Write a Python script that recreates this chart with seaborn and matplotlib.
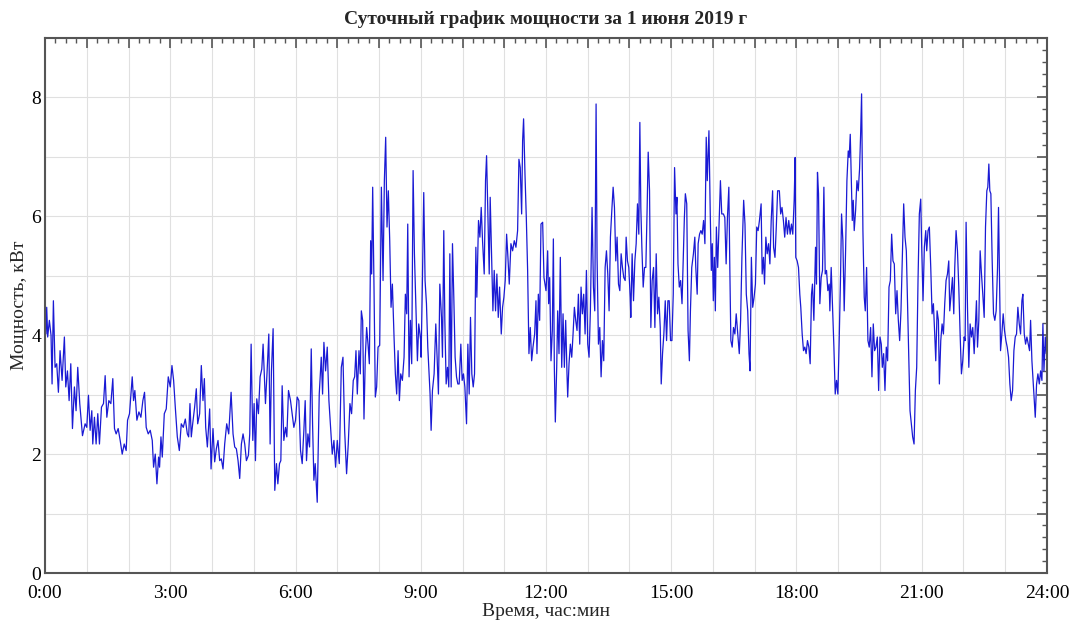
import numpy as np
import pandas as pd
import matplotlib
matplotlib.use("Agg")
import matplotlib.pyplot as plt
import seaborn as sns
from matplotlib.ticker import MultipleLocator, FuncFormatter

# minutes since midnight / power in kW in 3-hour blocks
t_00 = [0, 1.4, 2.4, 3.8, 6.2, 8.6, 10.1, 12, 14.4, 16.8, 19.2, 21.6, 24.5, 27.8, 29.8, 32.2, 34.6, 37, 39.4, 42.2,
        44.6, 47, 49.9, 53.8, 57.6, 60, 62.4, 64.8, 67.2, 68.6, 71, 73.4, 75.8, 78.2, 81.1, 84, 86.4, 88.8, 91.7, 94.6,
        97.4, 99.8, 102.2, 105.1, 108, 110.9, 113.8, 116.6, 118.6, 121.4, 125.3, 127.2, 129.1, 132, 134.9, 137.8, 140.6,
        143, 145.4, 148.3, 151.2, 154.1, 156, 158.4, 160.8, 163.2, 164.6, 166.6, 168.5, 171.4, 174.2, 177.1, 180]
p_00 = [4.47, 4.02, 4.47, 3.97, 4.25, 4.0, 3.18, 4.58, 3.46, 3.52, 3.04, 3.74, 3.24, 3.97, 3.13, 3.4, 2.9, 3.52, 2.43, 3.13,
        2.73, 3.46, 2.85, 2.31, 2.51, 2.45, 2.99, 2.4, 2.73, 2.17, 2.62, 2.17, 2.68, 2.17, 2.79, 2.85, 3.32, 2.62, 2.9, 2.85,
        3.27, 2.43, 2.34, 2.43, 2.23, 2.0, 2.17, 2.06, 2.57, 2.68, 3.3, 2.9, 3.07, 2.57, 2.71, 2.62, 2.9,
        3.04, 2.45, 2.34, 2.4, 2.23, 1.78, 2.0, 1.5, 1.95, 1.78, 2.29, 1.95, 2.68, 2.76, 3.3, 3.13]

t_03 = [182.4, 184.8, 187.2, 190.1, 193, 195.8, 198.7, 201.6, 204.5, 206.4, 208.3, 210.2, 212.2, 215, 217.4, 219.4,
        222.2, 224.6, 227, 229, 230.9, 233.3, 236.6, 238.6, 241.4, 243.8, 246.2, 248.6, 251, 253.4, 255.8, 258.2,
        261.1, 264, 267.4, 270.2, 272.6, 275, 277.4, 279.8, 282.2, 284.6, 287, 289.4, 292.3, 294.2, 296.2, 298.6,
        300.5, 302.4, 304.3, 306.7, 309.1, 311.5, 313.4, 315.4, 316.8, 319.2, 321.6, 323.5, 325.4, 327.8, 330.2,
        332.6, 334.6, 337, 338.9, 340.8, 343.2, 345.6, 347.5, 349.9, 352.8, 355.2, 357.6, 360]
p_03 = [3.49, 3.24, 2.79, 2.29, 2.06, 2.51, 2.45, 2.59, 2.34, 2.29, 2.85, 2.29, 2.51, 2.79, 3.1, 2.51,
        2.68, 3.49, 2.9, 3.27, 2.45, 2.12, 2.76, 1.75, 2.43, 1.87, 2.09, 2.23, 1.89, 1.92, 1.75, 2.17,
        2.51, 2.34, 3.04, 2.34, 2.12, 2.09, 1.89, 1.59, 2.17, 2.34, 2.17, 1.89, 1.98, 2.34, 3.85, 2.23,
        2.85, 1.89, 2.93, 2.68, 3.3, 3.43, 3.85, 3.24, 2.85, 3.4, 4.02, 2.17, 3.4, 4.11, 1.39,
        1.84, 1.5, 1.84, 1.89, 3.15, 2.23, 2.45, 2.29, 3.07, 2.9, 2.68, 2.45, 2.57]

t_06 = [362.4, 364.8, 367.2, 369.6, 372, 373.9, 375.8, 377.8, 380.2, 382.6, 384.5, 386.4, 388.3, 391.2, 394.1, 397,
        398.9, 400.8, 403.2, 405.6, 408, 410.4, 412.8, 415.2, 417.6, 420, 422.9, 425.8, 428.2, 430.6, 433.4, 435.8,
        438.2, 440.6, 443, 445, 446.9, 448.8, 451.2, 453.1, 454.6, 456.5, 458.4, 460.3, 462.2, 464.2, 466.1, 468,
        469.4, 470.9, 472.8, 474.7, 476.6, 478.6, 481, 483.4, 485.8, 487.7, 489.6, 491.5, 493.4, 495.4, 497.3,
        499.2, 501.6, 503.5, 505.4, 507.4, 509.3, 511.2, 513.6, 516, 517.9, 519.8, 521.3, 523.2, 525.1, 527, 529,
        530.9, 533.3, 535.2, 537.1, 540]
p_06 = [2.96, 2.9, 2.06, 1.84, 2.4, 2.9, 1.89, 2.34, 2.12, 3.77, 2.51, 1.56, 1.84, 1.19, 3.01, 3.63,
        3.01, 3.88, 3.4, 3.8, 2.9, 2.45, 2.0, 2.23, 1.78, 2.23, 1.84, 3.46, 3.63, 2.4, 1.67, 2.17,
        2.85, 2.68, 3.24, 3.3, 3.74, 3.01, 3.74, 3.35, 4.41, 4.25, 2.59, 3.63, 4.13, 3.85, 3.52, 5.59,
        5.03, 6.49, 4.81, 2.96, 3.13, 3.8, 3.83, 6.49, 4.92, 6.6, 7.33, 5.82, 6.43, 5.59, 4.47,
        4.86, 3.97, 3.35, 3.01, 3.74, 2.9, 3.35, 3.24, 3.63, 4.69, 4.36, 5.87, 3.3, 4.25, 3.52, 6.77,
        5.37, 4.36, 3.57, 4.19, 3.91]

t_09 = [540.5, 542.4, 544.3, 546.2, 548.2, 550.1, 552, 553.4, 554.9, 556.8, 559.2, 561.6, 563.5, 565.4, 567.4,
        569.8, 571.2, 573.1, 574.6, 576.5, 578.4, 580.3, 581.8, 583.7, 585.6, 587.5, 589.4, 591.4, 593.3, 595.2,
        597.6, 599.5, 601.4, 603.4, 605.8, 607.7, 609.6, 611.5, 613.4, 615.4, 617.3, 619.2, 620.6, 623, 625,
        626.9, 628.8, 631.2, 633.1, 634.6, 636.5, 638.4, 639.8, 641.8, 643.7, 645.6, 647.5, 649.4, 651.4, 653.3,
        655.7, 657.6, 659.5, 661.4, 663.4, 665.3, 667.2, 669.6, 672, 674.4, 676.8, 679.2, 681.1, 683, 685,
        686.4, 687.8, 689.8, 691.7, 693.6, 695.5, 697.4, 699.4, 701.3, 703.7, 705.6, 707, 709, 710.9, 712.8,
        715.2, 717.1, 720]
p_09 = [3.63, 4.92, 6.4, 4.92, 4.53, 3.8, 3.35, 3.01, 2.4, 3.07, 3.35, 4.19, 3.63, 3.01, 4.86,
        4.3, 3.63, 5.76, 4.25, 3.18, 3.46, 3.13, 5.37, 3.13, 5.54, 4.64, 3.63, 3.3, 3.18, 3.18,
        3.85, 3.24, 3.35, 3.13, 2.51, 3.85, 3.01, 4.3, 3.35, 3.13, 3.35, 5.48, 4.64, 5.93, 5.65,
        6.15, 5.59, 5.03, 6.6, 7.02, 6.04, 5.03, 6.32, 5.31, 4.41, 5.09, 4.41, 5.03, 4.3, 4.81,
        4.02, 4.47, 4.64, 4.92, 5.7, 5.31, 4.86, 5.54, 5.42, 5.59, 5.48, 5.76, 6.96, 6.82, 6.04,
        7.27, 7.64, 6.71, 5.98, 5.09, 3.69, 4.13, 3.57, 3.8, 4.02, 4.58, 3.69, 4.69, 4.25, 5.87,
        5.9, 4.97, 4.75]

t_12 = [720.5, 722.4, 723.8, 725.3, 727.2, 729.1, 730.6, 732, 733.4, 735.4, 736.8, 738.7, 740.6, 742.6, 744.5,
        746.4, 748.3, 750.2, 751.2, 753.1, 755, 757, 758.9, 760.8, 762.7, 764.6, 766.6, 768.5, 770.4, 772.3,
        774.2, 776.2, 778.1, 780, 781.9, 783.8, 786.2, 788.2, 790.1, 792, 793.4, 795.4, 797.3, 799.2, 801.1,
        803, 805, 806.9, 808.8, 810.7, 812.6, 814.6, 816.5, 818.4, 820.3, 822.2, 824.2, 826.1, 828, 829.9,
        831.8, 833.8, 835.2, 837.1, 839, 841, 841.9, 843.8, 845.8, 847.7, 849.6, 851.5, 853.4, 854.9, 856.3,
        857.8, 859.7, 861.6, 863.5, 865.4, 866.9, 868.8, 870.7, 872.6, 874.6, 876.5, 878.4, 880.3, 882.2,
        884.2, 885.6, 887.5, 889.4, 891.4, 893.3, 895.2, 897.1, 899]
p_12 = [4.86, 5.42, 4.53, 4.97, 3.57, 4.08, 5.62, 3.46, 2.54, 3.46, 4.41, 3.69, 5.31, 3.46, 4.36,
        3.46, 4.25, 3.35, 2.96, 3.52, 3.85, 3.63, 4.02, 4.47, 4.25, 4.08, 4.69, 3.85, 4.81, 4.36,
        4.69, 4.02, 5.09, 3.85, 3.63, 4.41, 6.15, 4.81, 4.41, 7.89, 5.31, 3.85, 4.13, 3.3, 3.91,
        3.57, 5.14, 5.42, 5.03, 4.41, 5.65, 6.1, 6.49, 6.15, 5.25, 5.65, 4.86, 4.75, 5.37, 5.14,
        4.97, 4.92, 5.65, 5.25, 5.14, 4.64, 4.3, 5.37, 4.58, 5.25, 5.54, 6.21, 5.7, 7.58, 6.15,
        5.48, 4.81, 5.14, 5.14, 6.15, 7.08, 6.43, 4.13, 4.92, 5.14, 4.13, 5.37, 4.36, 4.64,
        4.13, 3.18, 3.69, 4.02, 4.58, 3.91, 4.58, 4.58, 3.91]

t_15 = [901, 902.9, 904.8, 906.8, 908.2, 909.7, 911.6, 913.5, 915.5, 917.4, 918.9, 920.3, 922.3, 924.2, 926.1,
        927.6, 929.5, 931.9, 933.9, 935.3, 937.3, 938.7, 940.7, 942.6, 944.5, 946.5, 948.4, 950.3, 951.8, 954.2,
        956.1, 957.6, 959, 960.5, 962, 963.4, 964.9, 966.8, 968.7, 970.7, 972.6, 975, 977, 978.9, 980.8,
        982.8, 984.2, 985.7, 987.6, 989.5, 991.5, 993.4, 995.3, 997.8, 999.7, 1001.6, 1004.1, 1006, 1007.9,
        1009.9, 1011.8, 1013.3, 1015.2, 1017.1, 1019.1, 1021, 1022.9, 1024.9, 1026.8, 1029.2, 1030.7, 1032.6,
        1034.1, 1036, 1037.9, 1039.9, 1041.8, 1043.7, 1045.7, 1047.1, 1049.1, 1051, 1052.9, 1055.4, 1057.3,
        1059.2, 1061.2, 1063.1, 1065, 1067, 1068.9, 1070.9, 1072.8, 1074.7, 1076.7, 1078.1]
p_15 = [3.91, 4.69, 6.82, 6.04, 6.32, 5.2, 4.81, 4.92, 4.53, 5.31, 5.98, 6.38, 6.21, 4.08, 3.57,
        4.41, 5.14, 5.37, 5.65, 5.14, 4.69, 5.54, 5.7, 5.76, 5.7, 5.93, 5.54, 7.33, 6.6, 7.44,
        6.04, 5.09, 5.54, 4.58, 5.31, 4.41, 5.82, 5.14, 5.87, 6.6, 6.04, 6.04, 5.98, 5.2, 5.98,
        6.49, 5.14, 3.91, 3.8, 4.13, 4.02, 4.36, 4.08, 3.69, 4.25, 5.31, 6.27, 5.87, 4.69,
        4.41, 3.69, 3.4, 5.31, 4.47, 4.64, 4.86, 5.82, 5.76, 5.93, 6.21, 5.03, 5.31,
        4.86, 5.65, 5.37, 5.54, 5.2, 5.93, 6.43, 5.48, 5.31, 5.82, 6.43, 6.43, 6.04,
        6.15, 5.93, 5.65, 5.98, 5.7, 5.93, 5.7, 5.87, 5.7, 6.27, 6.99]

t_18 = [1079, 1081, 1082.9, 1084.8, 1086.2, 1088.2, 1090.1, 1092, 1093.9, 1095.8, 1097.8, 1099.7, 1101.6, 1103,
        1105, 1107.4, 1108.8, 1110.2, 1111.7, 1113.6, 1115.5, 1117.4, 1119.4, 1121.3, 1123.2, 1125.1, 1127, 1128,
        1129.9, 1131.8, 1133.8, 1135.7, 1137.6, 1139.5, 1141.4, 1143.4, 1144.8, 1146.7, 1148.6, 1150.6, 1152.5,
        1154.4, 1155.8, 1157.3, 1158.7, 1160.2, 1161.6, 1163, 1165, 1166.9, 1168.8, 1170.7, 1172.2, 1173.6,
        1175.5, 1177.4, 1178.9, 1180.8, 1182.7, 1184.6, 1186.6, 1188.5, 1190.4, 1192.3, 1194.2, 1196.2, 1198.1,
        1200, 1201.9, 1203.4, 1205.3, 1207.2, 1209.1, 1211, 1213, 1214.9, 1216.8, 1218.7, 1220.6, 1222.6,
        1224.5, 1226.4, 1228.3, 1230.2, 1232.2, 1234.1, 1236, 1237.9, 1239.4, 1241.3, 1243.2, 1245.1, 1247,
        1249, 1250.9, 1252.8, 1254.7, 1256.6]
p_18 = [5.31, 5.25, 5.14, 4.69, 4.47, 4.02, 3.74, 3.8, 3.69, 3.91, 3.8, 3.52, 4.69, 4.86,
        4.25, 5.48, 4.86, 6.74, 6.38, 4.53, 4.97, 5.09, 6.49, 5.03, 5.09, 4.75, 4.86, 4.41,
        5.14, 4.47, 3.8, 3.01, 3.24, 3.01, 3.91, 5.03, 6.04, 5.59, 4.41, 5.42, 6.6,
        7.1, 6.99, 7.38, 6.71, 5.93, 6.27, 5.76, 6.1, 6.6, 6.43, 6.8, 7.38, 8.06,
        5.76, 4.64, 4.41, 5.14, 3.91, 3.8, 4.13, 3.3, 4.19, 3.74, 3.8, 3.97, 3.07,
        3.97, 3.85, 3.46, 3.69, 3.07, 3.8, 3.57, 4.81, 4.92, 5.7, 5.25, 5.2, 4.36,
        4.75, 4.25, 3.91, 4.41, 5.37, 6.21, 5.65, 5.42, 4.69, 3.69, 2.73, 2.51, 2.29,
        2.17, 3.07, 3.46, 4.92, 6.04]

t_21 = [1258.6, 1260, 1261.9, 1263.8, 1265.8, 1267.2, 1269.1, 1271, 1273, 1274.9, 1276.8, 1278.7, 1280.2, 1282.1,
        1284, 1285.4, 1287.4, 1289.3, 1291.2, 1293.1, 1295, 1297, 1298.9, 1300.3, 1302.2, 1304.2, 1306.1, 1307.5,
        1309.4, 1311.4, 1313.3, 1315.2, 1317.1, 1319, 1321, 1322.4, 1323.8, 1325.8, 1327.7, 1329.6, 1331.5,
        1333.4, 1335.4, 1337.3, 1338.7, 1340.2, 1342.1, 1344, 1345.9, 1347.8, 1349.8, 1351.7, 1353.6, 1355,
        1356.5, 1357.9, 1359.4, 1361.3, 1363.2, 1365.1, 1367, 1369, 1370.4, 1371.8, 1373.3, 1375.2, 1377.1,
        1379, 1381, 1382.9, 1384.8, 1386.7, 1388.6, 1390.6, 1392.5, 1394.4, 1396.3, 1398.2, 1400.2, 1402.1,
        1404, 1405.4, 1407.4, 1409.3, 1411.2, 1413.1, 1415, 1416.5, 1418.4, 1420.3, 1421.8, 1423.2, 1425.1,
        1427, 1429, 1430.9, 1432.8, 1434.2, 1435.7, 1437.6, 1439]
p_21 = [6.29, 5.48, 4.58, 5.48, 5.76, 5.42, 5.76, 5.82, 5.14, 4.36, 4.53, 4.02, 3.57, 4.41,
        4.25, 3.18, 3.91, 4.19, 4.02, 4.53, 4.92, 5.03, 5.25, 4.41, 4.69, 4.97, 4.36, 5.14,
        5.76, 5.42, 4.81, 4.02, 3.35, 3.57, 3.97, 3.91, 5.9, 4.47, 3.46, 4.19, 3.97,
        4.13, 3.69, 4.19, 4.58, 3.8, 4.25, 5.42, 5.03, 4.69, 4.3, 5.82, 6.43, 6.49,
        6.88, 6.43, 6.38, 5.25, 4.36, 4.25, 4.41, 5.14, 6.15, 4.92, 3.74, 4.02, 4.36,
        4.08, 3.91, 3.8, 3.63, 3.18, 2.9, 3.07, 3.74, 3.97, 4.02, 4.47, 4.19, 4.02,
        4.58, 4.69, 4.02, 3.85, 3.97, 3.85, 3.74, 4.25, 3.57, 3.18, 2.9, 2.62, 3.18,
        3.35, 3.18, 3.4, 3.24, 4.19, 3.4, 3.97, 3.69]

blocks = [(t_00, p_00), (t_03, p_03), (t_06, p_06), (t_09, p_09), (t_12, p_12),
          (t_15, p_15), (t_18, p_18), (t_21, p_21)]
df = pd.concat([pd.DataFrame({"minute": t, "power": p}) for t, p in blocks], ignore_index=True)

sns.set_style("white")
plt.rcParams['font.family'] = ['Liberation Serif', 'DejaVu Serif']

fig = plt.figure(figsize=(10.75, 6.25), dpi=100)
ax = fig.add_axes([0.0419, 0.0832, 0.932, 0.856])

sns.lineplot(data=df, x="minute", y="power", ax=ax, color="#1a1ad4", linewidth=0.9, estimator=None, sort=False)

ax.set_xlim(0, 1440)
ax.set_ylim(0, 9)
ax.xaxis.set_major_locator(MultipleLocator(60))
ax.xaxis.set_minor_locator(MultipleLocator(15))
ax.xaxis.set_major_formatter(FuncFormatter(lambda v, pos: f"{int(v // 60)}:00" if int(round(v)) % 180 == 0 else ""))
ax.yaxis.set_major_locator(MultipleLocator(1))
ax.yaxis.set_minor_locator(MultipleLocator(0.2))
ax.yaxis.set_major_formatter(FuncFormatter(lambda v, pos: f"{int(round(v))}" if int(round(v)) % 2 == 0 else ""))

ax.grid(True, which="major", color="#e0e0e0", linewidth=0.8)
ax.tick_params(which="both", direction="in", top=True, right=True, colors="#555555", labelcolor="black", labelsize=14)
ax.tick_params(which="major", length=7, width=1.2)
ax.tick_params(which="minor", length=3.5, width=1.0)
ax.tick_params(axis="x", pad=9)
ax.tick_params(axis="y", pad=3)
for s in ax.spines.values():
    s.set_color("#555555")
    s.set_linewidth(1.5)

ax.set_title("Суточный график мощности за 1 июня 2019 г", fontsize=14, fontweight="bold", pad=10)
ax.set_xlabel("Время, час:мин", fontsize=14, labelpad=0)
ax.set_ylabel("Мощность, кВт", fontsize=14, labelpad=2)

fig.savefig("out.png", dpi=100)
